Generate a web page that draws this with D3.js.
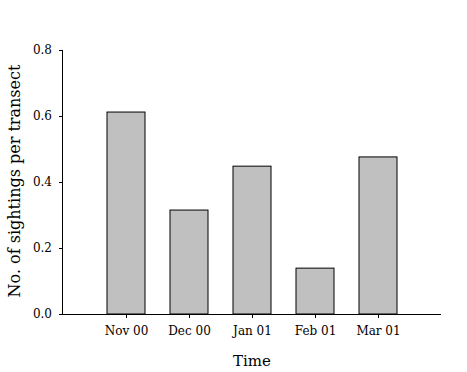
<!DOCTYPE html>
<html>
<head>
<meta charset="utf-8">
<script src="https://d3js.org/d3.v7.min.js"></script>
<style>
  body { margin: 0; background: #fff; }
  text { font-family: "DejaVu Serif", serif; fill: #000; }
</style>
</head>
<body>
<svg id="chart"></svg>
<script>
  // data
  var months = ["Nov 00", "Dec 00", "Jan 01", "Feb 01", "Mar 01"];
  var sightings = [0.612, 0.315, 0.448, 0.139, 0.476];
  var yTicks = [0, 0.2, 0.4, 0.6, 0.8];

  var W = 467, H = 372;
  var svg = d3.select("#chart").attr("width", W).attr("height", H);

  // x: months sit at 1..5 on a 0..6 axis
  var x = d3.scaleLinear().domain([0, 6]).range([63, 441]);
  var y = d3.scaleLinear().domain([0, 0.8]).range([314, 50]);
  var barW = 38;

  // bars
  svg.selectAll("rect.bar")
    .data(sightings)
    .enter().append("rect")
      .attr("class", "bar")
      .attr("x", function(d, i) { return x(i + 1) - barW / 2; })
      .attr("y", function(d) { return y(d); })
      .attr("width", barW)
      .attr("height", function(d) { return y(0) - y(d); })
      .attr("fill", "#c0c0c0")
      .attr("stroke", "#000")
      .attr("stroke-width", 1);

  // y axis
  var yAxis = svg.append("g")
    .attr("transform", "translate(63,0)")
    .call(d3.axisLeft(y).tickValues(yTicks).tickFormat(d3.format(".1f")).tickSize(4).tickPadding(7));
  yAxis.select(".domain").attr("d", "M-0.5," + y(0.8) + "V" + y(0));

  // x axis
  var xAxis = svg.append("g")
    .attr("transform", "translate(0,314)")
    .call(d3.axisBottom(x).tickValues([1, 2, 3, 4, 5])
      .tickFormat(function(d) { return months[d - 1]; })
      .tickSize(4).tickPadding(8));
  xAxis.select(".domain").attr("d", "M63,0.5H441");

  svg.selectAll(".tick text").style("font-family", "DejaVu Serif").style("font-size", "12px");
  svg.selectAll(".tick line, .domain").attr("stroke", "#000");

  // axis titles
  svg.append("text")
    .attr("x", 252).attr("y", 366)
    .attr("text-anchor", "middle")
    .style("font-size", "15px")
    .text("Time");

  svg.append("text")
    .attr("transform", "translate(20," + 181 + ") rotate(-90)")
    .attr("text-anchor", "middle")
    .style("font-size", "16px")
    .text("No. of sightings per transect");
</script>
</body>
</html>
